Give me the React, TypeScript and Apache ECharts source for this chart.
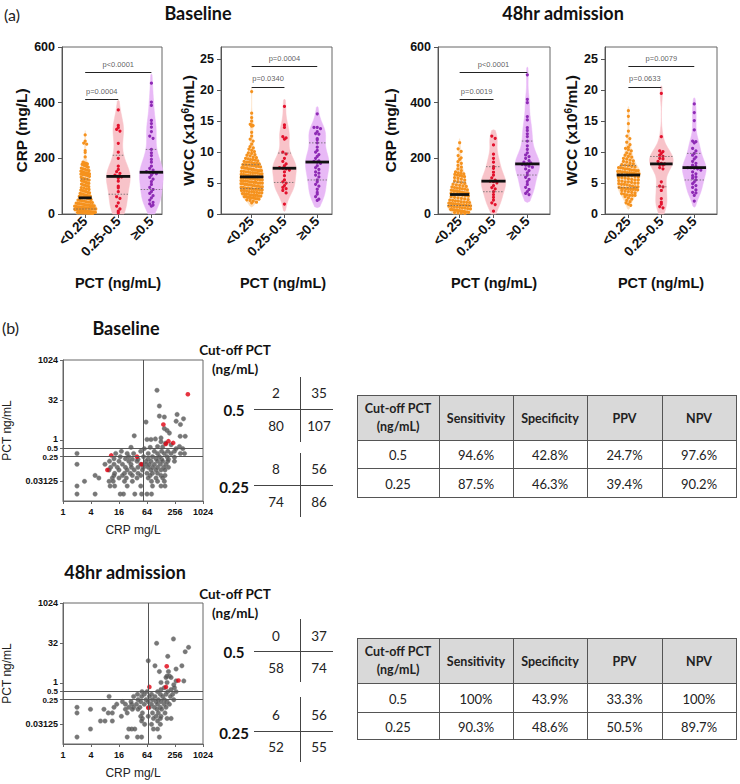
import React, { useEffect, useRef } from "react";
import * as echarts from "echarts";

// ---------------- DATA ----------------
const groupLabels = ["<0.25", "0.25-0.5", "≥0.5"];

// Baseline CRP (mg/L) by PCT group
const crpBaseLow = [284, 262, 255, 251, 228, 221, 205, 186, 184, 182, 180, 178, 176, 174, 171, 168, 165, 162, 160, 158, 156, 154, 152, 150, 149, 148, 147, 146, 145, 144, 143, 142, 141, 140, 138, 135, 132, 128, 126, 124, 122, 120, 118, 116, 114, 112, 110, 107, 105, 103, 101, 98, 95, 93, 90, 88, 86, 84, 82, 80, 78, 76, 74, 72, 71, 69, 68, 66, 65, 64, 63, 62, 61, 60, 59, 57, 56, 54, 52, 50, 49, 47, 46, 44, 43, 42, 41, 39, 38, 37, 36, 35, 34, 33, 32, 31, 30, 30, 29, 28, 27, 26, 26, 25, 24, 24, 23, 22, 22, 21, 21, 20, 19, 19, 18, 18, 17, 17, 16, 16, 15, 15, 14, 14, 13, 13, 12, 12, 11, 11, 10, 10, 9, 9, 9, 8, 8, 8, 7, 7, 7, 6, 6, 6, 5, 5, 5, 4, 4, 4, 3, 3, 2, 2];
const crpBaseMid = [374, 318, 310, 304, 298, 254, 222, 200, 172, 160, 152, 146, 140, 136, 133, 128, 118, 100, 94, 80, 62, 56, 40, 28, 18, 10, 4];
const crpBaseHigh = [470, 402, 390, 336, 325, 312, 296, 280, 272, 232, 220, 210, 196, 186, 172, 164, 158, 152, 150, 148, 145, 140, 132, 125, 116, 106, 96, 88, 80, 74, 66, 58, 50, 42, 36, 32, 28];

// Baseline WCC (x10^6/mL)
const wccBaseLow = [19.8, 16.3, 15.6, 15.0, 14.5, 14.4, 14.3, 14.2, 13.2, 12.6, 12.1, 11.8, 11.3, 10.9, 10.7, 10.5, 10.3, 10.1, 9.9, 9.8, 9.6, 9.5, 9.4, 9.2, 9.1, 9.0, 8.9, 8.8, 8.8, 8.7, 8.6, 8.5, 8.4, 8.4, 8.3, 8.2, 8.2, 8.1, 8.0, 8.0, 7.9, 7.9, 7.8, 7.8, 7.7, 7.7, 7.6, 7.5, 7.5, 7.4, 7.4, 7.3, 7.3, 7.2, 7.2, 7.1, 7.1, 7.0, 7.0, 7.0, 6.9, 6.9, 6.8, 6.8, 6.7, 6.7, 6.6, 6.6, 6.5, 6.5, 6.4, 6.4, 6.3, 6.3, 6.2, 6.2, 6.1, 6.1, 6.0, 6.0, 5.9, 5.9, 5.8, 5.8, 5.7, 5.7, 5.6, 5.6, 5.5, 5.5, 5.4, 5.4, 5.3, 5.3, 5.2, 5.2, 5.1, 5.1, 5.0, 5.0, 5.0, 4.9, 4.9, 4.8, 4.8, 4.7, 4.7, 4.6, 4.6, 4.5, 4.5, 4.4, 4.4, 4.3, 4.3, 4.2, 4.2, 4.1, 4.1, 4.0, 4.0, 4.0, 3.9, 3.9, 3.8, 3.8, 3.7, 3.6, 3.6, 3.5, 3.5, 3.4, 3.4, 3.3, 3.3, 3.2, 3.2, 3.1, 3.1, 3.0, 3.0, 3.0, 2.9, 2.9, 2.8, 2.8, 2.7, 2.7, 2.6, 2.6, 2.5, 2.5, 2.4, 2.3, 2.2, 2.1, 1.9, 1.8];
const wccBaseMid = [17.4, 14.4, 14.0, 12.5, 12.3, 12.1, 10.0, 9.7, 9.0, 8.5, 8.1, 7.8, 7.5, 7.4, 7.3, 7.1, 6.8, 6.2, 5.5, 5.2, 5.0, 4.6, 4.3, 4.1, 3.8, 3.4, 1.6];
const wccBaseHigh = [16.2, 14.0, 14.0, 13.8, 13.3, 13.0, 12.9, 12.2, 12.0, 11.5, 10.8, 10.3, 10.0, 9.6, 9.3, 9.0, 8.6, 8.5, 8.4, 8.2, 7.8, 7.5, 7.2, 6.8, 6.6, 6.3, 6.0, 5.5, 5.2, 4.8, 4.5, 4.0, 3.5, 3.2, 2.8, 2.4, 2.2];

// 48hr CRP (mg/L)
const crp48Low = [256, 234, 225, 210, 202, 196, 188, 182, 175, 168, 162, 156, 151, 148, 146, 144, 142, 140, 138, 136, 134, 131, 128, 125, 122, 119, 116, 113, 110, 107, 105, 103, 101, 99, 97, 95, 93, 92, 90, 89, 87, 86, 84, 83, 81, 80, 78, 77, 76, 75, 74, 73, 72, 70, 68, 66, 64, 62, 60, 58, 56, 54, 52, 50, 49, 47, 46, 44, 43, 42, 41, 39, 38, 37, 36, 35, 34, 33, 32, 31, 30, 29, 28, 27, 26, 25, 24, 22, 21, 19, 18, 17, 16, 15, 14, 13, 12, 11, 10, 9, 8, 7, 6, 5, 4, 3, 2];
const crp48Mid = [280, 272, 248, 215, 200, 186, 170, 164, 150, 140, 130, 122, 118, 116, 112, 102, 95, 90, 80, 70, 60, 50, 40, 34, 10];
const crp48High = [500, 412, 400, 350, 338, 310, 300, 288, 278, 262, 245, 232, 220, 212, 206, 200, 192, 186, 180, 178, 176, 172, 168, 162, 156, 148, 140, 132, 124, 116, 106, 96, 88, 80, 74, 70, 184];

// 48hr WCC (x10^6/mL)
const wcc48Low = [16.7, 15.8, 14.6, 13.4, 12.6, 12.2, 11.6, 11.2, 10.8, 10.6, 10.4, 10.2, 9.9, 9.7, 9.5, 9.3, 9.2, 9.0, 8.9, 8.7, 8.6, 8.5, 8.4, 8.2, 8.1, 8.0, 7.9, 7.8, 7.7, 7.6, 7.5, 7.5, 7.4, 7.3, 7.3, 7.2, 7.1, 7.1, 7.0, 7.0, 6.9, 6.9, 6.8, 6.8, 6.7, 6.7, 6.6, 6.6, 6.5, 6.5, 6.4, 6.4, 6.3, 6.2, 6.2, 6.1, 6.0, 5.9, 5.9, 5.8, 5.7, 5.6, 5.5, 5.5, 5.4, 5.3, 5.2, 5.2, 5.1, 5.0, 5.0, 4.9, 4.8, 4.8, 4.7, 4.6, 4.5, 4.4, 4.4, 4.3, 4.2, 4.2, 4.1, 4.1, 4.0, 4.0, 4.0, 3.9, 3.8, 3.7, 3.6, 3.5, 3.4, 3.3, 3.2, 3.1, 3.0, 3.0, 3.0, 2.8, 2.6, 2.4, 2.2, 2.0, 1.8, 1.6, 1.4];
const wcc48Mid = [19.5, 12.5, 10.2, 10.1, 9.8, 9.5, 9.3, 9.0, 8.9, 8.5, 8.2, 8.1, 8.0, 7.9, 7.5, 7.3, 5.2, 4.5, 4.4, 3.8, 2.5, 1.9, 1.6, 1.2, 1.0];
const wcc48High = [17.8, 16.4, 15.1, 13.6, 11.8, 11.7, 11.5, 10.6, 10.2, 9.8, 9.5, 9.2, 8.9, 8.5, 8.2, 7.9, 7.7, 7.5, 7.5, 7.4, 7.3, 7.1, 6.8, 6.5, 6.2, 6.0, 5.8, 5.5, 5.2, 4.9, 4.6, 4.3, 3.9, 3.5, 3.4, 3.0, 2.1];

// medians
const crpBaseMedians = [58, 135, 150];
const wccBaseMedians = [6.0, 7.4, 8.4];
const crp48Medians = [70, 118, 180];
const wcc48Medians = [6.3, 8.1, 7.5];

// p-value brackets [fromGroup, toGroup, height, label]
const crpBaseBrackets: [number, number, number, string][] = [[1, 3, 510, "p<0.0001"], [1, 2, 413, "p=0.0004"]];
const wccBaseBrackets: [number, number, number, string][] = [[1, 3, 23.9, "p=0.0004"], [1, 2, 20.6, "p=0.0340"]];
const crp48Brackets: [number, number, number, string][] = [[1, 3, 510, "p<0.0001"], [1, 2, 413, "p=0.0019"]];
const wcc48Brackets: [number, number, number, string][] = [[1, 3, 23.9, "p=0.0079"], [1, 2, 20.6, "p=0.0633"]];

// Scatter: [CRP mg/L, PCT ng/mL]
const baseGray: [number, number][] = [
  [105, 76], [118, 19.6], [118, 8.2], [151, 7.6], [284, 9.5], [390, 6.5], [271, 5.3], [61, 4.9], [335, 4.0], [151, 2.8], [173, 2.4], [194, 1.9], [34, 1.5], [331, 1.45], [424, 1.45], [128, 1.26], [97, 1.15], [64, 1.1], [78, 1.1], [128, 0.9], [160, 0.8], [211, 0.7], [108, 0.6], [139, 0.58], [320, 0.6], [29, 0.56], [75, 0.56], [56, 0.5], [270, 0.5], [377, 0.5],
  [18, 0.4], [47, 0.4], [92, 0.4], [132, 0.4], [179, 0.4], [249, 0.4],
  [2, 0.33], [13.6, 0.33], [24, 0.33], [33, 0.33], [68, 0.33], [108, 0.33], [151, 0.33], [211, 0.33], [335, 0.33], [410, 0.33],
  [17, 0.25], [26, 0.25], [54, 0.25], [84, 0.25], [118, 0.25], [173, 0.25], [249, 0.24],
  [12.5, 0.21], [22, 0.21], [31, 0.2], [41, 0.2], [68, 0.21], [100, 0.21], [132, 0.2], [185, 0.2],
  [10, 0.17], [16, 0.17], [26, 0.17], [39, 0.17], [61, 0.17], [78, 0.17], [108, 0.17], [139, 0.17], [179, 0.17], [249, 0.17],
  [2, 0.13], [8, 0.13], [12.5, 0.13], [19, 0.13], [29, 0.13], [47, 0.13], [61, 0.13], [72, 0.13], [92, 0.13], [124, 0.13], [164, 0.13],
  [10.6, 0.1], [14.7, 0.1], [22, 0.1], [29.6, 0.1], [41, 0.1], [54, 0.1], [68, 0.1], [85, 0.1], [108, 0.1], [147, 0.1], [185, 0.1],
  [9.8, 0.08], [16, 0.08], [24, 0.08], [34, 0.08], [51, 0.08], [78, 0.08], [100, 0.08], [128, 0.08], [156, 0.08],
  [12.9, 0.06], [21, 0.06], [28, 0.06], [41, 0.06], [64, 0.06], [84, 0.06], [108, 0.06],
  [4.9, 0.05], [12.5, 0.05], [19, 0.05], [31, 0.05], [47, 0.05], [75, 0.05], [128, 0.05], [156, 0.05],
  [5.9, 0.04], [11.5, 0.04], [16, 0.04], [23, 0.04], [39, 0.04], [68, 0.04], [100, 0.04], [139, 0.04],
  [2.9, 0.03], [9.8, 0.03], [12, 0.03], [21, 0.03], [31, 0.03], [80, 0.03], [108, 0.03], [151, 0.03],
  [2, 0.02], [10.3, 0.02], [12.9, 0.02], [24, 0.02], [47, 0.02], [84, 0.02], [128, 0.02], [156, 0.02],
  [2, 0.01], [4.9, 0.01], [17, 0.01], [20, 0.01], [35, 0.01], [49, 0.01], [64, 0.01], [80, 0.01],
];
const baseRed: [number, number][] = [[484, 54], [144, 4], [185, 0.95], [162, 0.75], [234, 0.82], [10.9, 0.28], [39, 0.25], [49, 0.13], [9, 0.08]];

const h48Gray: [number, number][] = [
  [237, 46.6], [103, 32], [501, 22.6], [424, 15.5], [179, 10.4], [68, 7.1], [95, 4.6], [360, 4.6], [270, 3.5], [118, 2.8], [185, 2.8], [194, 1.9], [173, 1.9], [164, 1.7], [211, 1.7], [270, 1.26], [396, 1.26], [128, 1.1], [173, 1.1], [241, 0.9], [151, 0.7], [249, 0.7], [128, 0.6], [211, 0.6],
  [50, 0.5], [64, 0.5], [108, 0.5], [179, 0.5], [270, 0.5],
  [40, 0.4], [56, 0.4], [80, 0.4], [124, 0.4], [164, 0.4], [228, 0.4],
  [9.8, 0.33], [33, 0.33], [49, 0.33], [72, 0.33], [95, 0.33], [139, 0.33], [204, 0.33],
  [41, 0.25], [61, 0.25], [84, 0.25], [112, 0.25], [151, 0.25], [241, 0.25],
  [19, 0.21], [29, 0.21], [47, 0.21], [68, 0.21], [100, 0.21], [128, 0.21], [173, 0.21],
  [14.3, 0.17], [22, 0.17], [30, 0.17], [38, 0.17], [56, 0.17], [80, 0.17], [108, 0.17], [151, 0.17], [194, 0.17],
  [2, 0.13], [12.5, 0.13], [26, 0.13], [33, 0.13], [45, 0.13], [72, 0.13], [92, 0.13], [124, 0.13], [164, 0.13],
  [3.9, 0.11], [7.6, 0.11], [22, 0.11], [31, 0.11], [41, 0.11], [105, 0.11], [132, 0.11],
  [2, 0.08], [9.4, 0.08], [11.5, 0.08], [24, 0.08], [51, 0.08], [84, 0.08], [112, 0.08], [156, 0.08],
  [18, 0.06], [47, 0.06], [68, 0.06], [100, 0.06], [128, 0.06],
  [51, 0.05], [88, 0.05], [124, 0.05], [173, 0.05], [211, 0.05],
  [6.4, 0.04], [8, 0.04], [11.5, 0.04], [49, 0.04], [108, 0.04],
  [57, 0.03], [80, 0.03], [124, 0.03],
  [3.9, 0.02], [26, 0.02], [30, 0.02], [35, 0.02], [88, 0.02], [108, 0.02],
  [2, 0.01], [24, 0.01], [40, 0.01], [49, 0.01], [118, 0.01],
];
const h48Red: [number, number][] = [[170, 4.4], [72, 0.75], [164, 0.75], [304, 1.3], [68, 0.125]];

const crpCutoffs = [54, 68]; // vertical reference line (baseline, 48hr)
const pctCutoffs = [0.5, 0.25];
const scatterXTicks = [1, 4, 16, 64, 256, 1024];
const scatterYTicks = [1024, 32, 1, 0.5, 0.25, 0.03125];

// 2x2 tables: [PCT>=cut & CRP low, PCT>=cut & CRP high, PCT<cut & CRP low, PCT<cut & CRP high]
const contBase = [[2, 35, 80, 107], [8, 56, 74, 86]];
const cont48 = [[0, 37, 58, 74], [6, 56, 52, 55]];

const tableHeaders = ["Cut-off PCT\n(ng/mL)", "Sensitivity", "Specificity", "PPV", "NPV"];
const tableBase = [["0.5", "94.6%", "42.8%", "24.7%", "97.6%"], ["0.25", "87.5%", "46.3%", "39.4%", "90.2%"]];
const table48 = [["0.5", "100%", "43.9%", "33.3%", "100%"], ["0.25", "90.3%", "48.6%", "50.5%", "89.7%"]];

// ---------------- HELPERS ----------------
const AX = "'Liberation Sans', Arial, sans-serif";
const CAL = "Lato, 'Open Sans', sans-serif";
const violinFills = ["#fde1c2", "#f8c3c9", "#e8b9f6"];
const dotColors = ["#f5921e", "#e3122d", "#8e2bb5"];

function quantile(s: number[], p: number) {
  const idx = (s.length - 1) * p;
  const lo = Math.floor(idx), hi = Math.ceil(idx);
  return s[lo] + (s[hi] - s[lo]) * (idx - lo);
}

function kdeProfile(values: number[], lo: number, hi: number, bwFactor: number, maxHalf: number) {
  const s = [...values].sort((a, b) => a - b);
  const n = s.length;
  const mean = s.reduce((a, b) => a + b, 0) / n;
  const sd = Math.sqrt(s.reduce((a, b) => a + (b - mean) * (b - mean), 0) / (n - 1));
  const iqr = quantile(s, 0.75) - quantile(s, 0.25);
  const spread = Math.min(sd, iqr / 1.34 || sd);
  const h = bwFactor * 0.9 * spread * Math.pow(n, -0.2);
  const a = Math.max(lo, s[0] - 0.9 * h);
  const b = Math.min(hi, s[n - 1] + 0.9 * h);
  const steps = 100;
  const pts: number[][] = [];
  for (let i = 0; i <= steps; i++) {
    const v = a + ((b - a) * i) / steps;
    let d = 0;
    for (const x of s) {
      const z = (v - x) / h;
      d += Math.exp(-0.5 * z * z);
    }
    pts.push([v, d]);
  }
  const maxD = Math.max(...pts.map((p) => p[1]));
  const prof = pts.map(([v, d]) => [v, (d / maxD) * maxHalf]);
  if (a > lo) prof[0][1] = 0;
  prof[prof.length - 1][1] = 0;
  return prof;
}

function widthAt(prof: number[][], v: number) {
  if (v <= prof[0][0]) return prof[0][1];
  for (let i = 1; i < prof.length; i++) {
    if (v <= prof[i][0]) {
      const [v0, w0] = prof[i - 1];
      const [v1, w1] = prof[i];
      return w0 + ((w1 - w0) * (v - v0)) / (v1 - v0);
    }
  }
  return prof[prof.length - 1][1];
}

function swarm(values: number[], center: number, binSize: number, prof: number[][], step: number) {
  const bins = new Map<number, number[]>();
  values.forEach((v) => {
    const k = Math.round(v / binSize);
    if (!bins.has(k)) bins.set(k, []);
    bins.get(k)!.push(v);
  });
  const out: number[][] = [];
  bins.forEach((vs, k) => {
    const n = vs.length;
    const hw = Math.max(widthAt(prof, k * binSize), 0.05);
    const s = n > 1 ? Math.min(step, (2 * hw * 0.9) / (n - 1)) : step;
    vs.forEach((v, i) => out.push([center + (i - (n - 1) / 2) * s, v]));
  });
  return out;
}

function violinSeries(panel: number, groups: number[][], medians: number[], yMax: number, brackets: [number, number, number, string][]) {
  const profiles = groups.map((g) => kdeProfile(g, 0, yMax, 0.8, 0.36));
  const binSize = (yMax * 3.2) / 167;
  const series: any[] = [];
  series.push({
    type: "custom",
    xAxisIndex: panel,
    yAxisIndex: panel,
    z: 1,
    silent: true,
    data: [[1, 0, 0], [2, 0, 1], [3, 0, 2]],
    encode: { x: 0, y: 1 },
    renderItem: (_p: any, api: any) => {
      const gi = api.value(2);
      const c = gi + 1;
      const prof = profiles[gi];
      const left = prof.map(([v, w]) => api.coord([c - w, v]));
      const right = prof.map(([v, w]) => api.coord([c + w, v])).reverse();
      return { type: "polygon", shape: { points: left.concat(right) }, style: { fill: violinFills[gi], stroke: violinFills[gi], lineWidth: 0.5 } };
    },
  });
  groups.forEach((g, gi) => {
    series.push({
      type: "scatter",
      xAxisIndex: panel,
      yAxisIndex: panel,
      z: 2,
      silent: true,
      symbol: "circle",
      symbolSize: 3.2,
      itemStyle: { color: dotColors[gi], opacity: 1 },
      data: swarm(g, gi + 1, binSize, profiles[gi], 0.1),
    });
  });
  series.push({
    type: "custom",
    xAxisIndex: panel,
    yAxisIndex: panel,
    z: 3,
    silent: true,
    itemStyle: { color: "#111" },
    data: medians.map((m, gi) => [gi + 1, m, gi]),
    encode: { x: 0, y: 1 },
    renderItem: (_p: any, api: any) => {
      const gi = api.value(2);
      const c = gi + 1;
      const med = api.value(1);
      const s = [...groups[gi]].sort((a, b) => a - b);
      const q1 = quantile(s, 0.25), q3 = quantile(s, 0.75);
      const prof = profiles[gi];
      const wm = Math.max(widthAt(prof, med), 0.18);
      const children: any[] = [];
      [q1, q3].forEach((q) => {
        const w = Math.max(widthAt(prof, q), 0.1);
        const p1 = api.coord([c - w, q]);
        const p2 = api.coord([c + w, q]);
        children.push({ type: "line", shape: { x1: p1[0], y1: p1[1], x2: p2[0], y2: p2[1] }, style: { stroke: "#666", lineWidth: 0.8, lineDash: [1.5, 1.5] } });
      });
      const m1 = api.coord([c - wm, med]);
      const m2 = api.coord([c + wm, med]);
      children.push({ type: "line", shape: { x1: m1[0], y1: m1[1], x2: m2[0], y2: m2[1] }, style: { stroke: "#111", lineWidth: 2.8 } });
      return { type: "group", children };
    },
  });
  // bracket lines
  series.push({
    type: "custom",
    xAxisIndex: panel,
    yAxisIndex: panel,
    z: 4,
    silent: true,
    itemStyle: { color: "#222" },
    data: brackets.map((b) => [b[0], b[2], b[1]]),
    encode: { x: 0, y: 1 },
    renderItem: (_p: any, api: any) => {
      const p1 = api.coord([api.value(0), api.value(1)]);
      const p2 = api.coord([api.value(2), api.value(1)]);
      const yy = Math.round(p1[1]) + 0.5;
      return { type: "line", shape: { x1: p1[0], y1: yy, x2: p2[0], y2: yy }, style: { stroke: "#222", lineWidth: 1 } };
    },
  });
  // bracket labels
  series.push({
    type: "scatter",
    xAxisIndex: panel,
    yAxisIndex: panel,
    z: 4,
    silent: true,
    symbolSize: 0,
    itemStyle: { color: "transparent" },
    data: brackets.map((b) => [(b[0] + b[1]) / 2, b[2], b[3]]),
    label: {
      show: true,
      position: "top",
      distance: 4,
      formatter: (p: any) => p.data[2],
      fontSize: 7.5,
      fontFamily: AX,
      color: "#333",
    },
  });
  return series;
}

function violinXAxis(i: number, min: number, max: number, namePad: number) {
  return {
    type: "value",
    gridIndex: i,
    min,
    max,
    axisLine: { show: true, onZero: false, lineStyle: { color: "#555", width: 1 } },
    axisTick: { show: true, customValues: [1, 2, 3], length: 4, lineStyle: { color: "#555" } },
    axisLabel: {
      customValues: [1, 2, 3],
      formatter: (v: number) => groupLabels[Math.round(v) - 1] ?? "",
      rotate: 45,
      fontSize: 13.5,
      fontWeight: "bold",
      color: "#111",
      fontFamily: AX,
      margin: 5,
      hideOverlap: false,
    },
    splitLine: { show: false },
    name: "PCT (ng/mL)",
    nameLocation: "middle",
    nameGap: 61,
    nameTextStyle: { fontSize: 14.5, fontWeight: "bold", color: "#111", fontFamily: AX, padding: [0, 0, 0, namePad] },
  };
}

function violinYAxis(i: number, max: number, ticks: number[], name: string, nameGap: number) {
  return {
    type: "value",
    gridIndex: i,
    min: 0,
    max,
    axisLine: { show: true, onZero: false, lineStyle: { color: "#555", width: 1 } },
    axisTick: { show: true, customValues: ticks, length: 4, lineStyle: { color: "#555" } },
    axisLabel: { customValues: ticks, fontSize: 12.5, fontWeight: "bold", color: "#111", fontFamily: AX, margin: 7 },
    splitLine: { show: false },
    name,
    nameLocation: "middle",
    nameGap,
    nameTextStyle: {
      fontSize: 15.5,
      fontWeight: "bold",
      color: "#111",
      fontFamily: AX,
      rich: { sup: { fontSize: 10, fontWeight: "bold", fontFamily: AX, color: "#111", verticalAlign: "top", lineHeight: 15 } },
    },
  };
}

// label positions on the log2 PCT axis: the three crowded labels are nudged apart slightly
const yTickExps = scatterYTicks.map((t) => Math.log2(t));
const yLabelExps = yTickExps.map((e) => (e === 0 ? 0.15 : e === -2 ? -2.15 : e));
const fmtX = (v: number) => String(Math.round(Math.pow(2, v)));
const fmtY = (v: number) => {
  let best = yTickExps[0];
  yLabelExps.forEach((e, k) => {
    if (Math.abs(e - v) < 1e-6) best = yTickExps[k];
  });
  const p = Math.round(Math.pow(2, best) * 1e6) / 1e6;
  if (p === 0.5 || p === 0.25) return `{s|${p}}`;
  return String(p);
};

function scatterAxes(i: number) {
  const xVals = scatterXTicks.map((t) => Math.log2(t));
  const lab = { fontSize: 9, fontWeight: "bold", color: "#111", fontFamily: AX };
  const x = {
    type: "value",
    gridIndex: i,
    min: 0,
    max: 10,
    axisLine: { show: true, onZero: false, lineStyle: { color: "#666" } },
    axisTick: { show: true, customValues: xVals, length: 3, lineStyle: { color: "#666" } },
    axisLabel: { customValues: xVals, formatter: fmtX, ...lab, margin: 6 },
    splitLine: { show: false },
    name: "CRP mg/L",
    nameLocation: "middle",
    nameGap: 23,
    nameTextStyle: { fontSize: 12, color: "#222", fontFamily: AX },
  };
  const y = {
    type: "value",
    gridIndex: i,
    min: -7.5,
    max: 10,
    axisLine: { show: true, onZero: false, lineStyle: { color: "#666" } },
    axisTick: { show: true, customValues: yTickExps, length: 3, lineStyle: { color: "#666" } },
    axisLabel: {
      customValues: yLabelExps,
      formatter: fmtY,
      ...lab,
      margin: 5,
      rich: { s: { ...lab, fontSize: 8 } },
    },
    splitLine: { show: false },
    name: "PCT ng/mL",
    nameLocation: "middle",
    nameGap: 50,
    nameTextStyle: { fontSize: 12, color: "#222", fontFamily: AX },
  };
  return { x, y };
}

function scatterSeries(i: number, gray: [number, number][], red: [number, number][], crpCut: number) {
  return [
    {
      type: "scatter",
      xAxisIndex: i,
      yAxisIndex: i,
      silent: true,
      symbolSize: 4.6,
      itemStyle: { color: "#555", borderColor: "#888", borderWidth: 0.4 },
      data: gray.map(([c, p]) => [Math.log2(c), Math.log2(p)]),
      markLine: {
        silent: true,
        symbol: ["none", "none"],
        label: { show: false },
        lineStyle: { color: "#555", width: 1, type: "solid" },
        data: [{ yAxis: Math.log2(pctCutoffs[0]) }, { yAxis: Math.log2(pctCutoffs[1]) }, { xAxis: Math.log2(crpCut) }],
      },
    },
    {
      type: "scatter",
      xAxisIndex: i,
      yAxisIndex: i,
      silent: true,
      symbolSize: 4.6,
      itemStyle: { color: "#e00010" },
      data: red.map(([c, p]) => [Math.log2(c), Math.log2(p)]),
      z: 3,
    },
  ];
}

function buildGraphics() {
  const g: any[] = [];
  const txt = (x: number, y: number, text: string, size: number, weight = "normal", family = CAL, align = "center", color = "#111") =>
    g.push({ type: "text", x, y, silent: true, style: { text, align, verticalAlign: "middle", fontSize: size, fontWeight: weight, fontFamily: family, fill: color } });
  const ln = (x1: number, y1: number, x2: number, y2: number, color = "#444", w = 1) =>
    g.push({ type: "line", silent: true, shape: { x1, y1, x2, y2 }, style: { stroke: color, lineWidth: w } });

  txt(4, 14, "(a)", 16, "normal", CAL, "left", "#222");
  txt(198, 13, "Baseline", 18, "bold");
  txt(563, 13, "48hr admission", 18, "bold");
  txt(2, 327, "(b)", 16, "normal", CAL, "left", "#222");
  txt(126, 328, "Baseline", 18, "bold");
  txt(125, 572, "48hr admission", 18, "bold");

  const contBlock = (hy1: number, blocks: { top: number; bot: number; hy: number; ny1: number; ny2: number; ly: number }[], vals: number[][]) => {
    txt(235, hy1, "Cut-off PCT", 13.5, "bold");
    txt(235, hy1 + 19, "(ng/mL)", 13.5, "bold");
    blocks.forEach((b, i) => {
      ln(300.5, b.top, 300.5, b.bot);
      ln(254, b.hy + 0.5, 333, b.hy + 0.5);
      txt(234, b.ly, pctCutoffs[i] === 0.5 ? "0.5" : "0.25", 15, "bold");
      txt(276, b.ny1, String(vals[i][0]), 13.5, "normal", CAL, "center", "#222");
      txt(319, b.ny1, String(vals[i][1]), 13.5, "normal", CAL, "center", "#222");
      txt(276, b.ny2, String(vals[i][2]), 13.5, "normal", CAL, "center", "#222");
      txt(319, b.ny2, String(vals[i][3]), 13.5, "normal", CAL, "center", "#222");
    });
  };
  contBlock(350, [
    { top: 377, bot: 442, hy: 409, ny1: 393, ny2: 426, ly: 410 },
    { top: 453, bot: 517, hy: 485, ny1: 469, ny2: 502, ly: 487 },
  ], contBase);
  contBlock(594, [
    { top: 619, bot: 682, hy: 651, ny1: 636, ny2: 668, ly: 652 },
    { top: 697, bot: 762, hy: 731, ny1: 715, ny2: 747, ly: 733 },
  ], cont48);

  const colX = [357, 439, 513, 587, 662, 736];
  const table = (ys: number[], rows: string[][]) => {
    g.push({ type: "rect", silent: true, shape: { x: colX[0] + 0.5, y: ys[0] + 0.5, width: colX[5] - colX[0], height: ys[1] - ys[0] }, style: { fill: "#d9d9d9", stroke: "none" } });
    for (let r = 0; r < ys.length; r++) ln(colX[0], ys[r] + 0.5, colX[5] + 1, ys[r] + 0.5, "#555");
    for (let c = 0; c < colX.length; c++) ln(colX[c] + 0.5, ys[0], colX[c] + 0.5, ys[3] + 1, "#555");
    tableHeaders.forEach((h, c) => {
      const cx = (colX[c] + colX[c + 1]) / 2;
      const cy = (ys[0] + ys[1]) / 2;
      const lines = h.split("\n");
      if (lines.length === 2) {
        txt(cx, cy - 9, lines[0], 12.5, "bold", CAL, "center", "#222");
        txt(cx, cy + 9, lines[1], 12.5, "bold", CAL, "center", "#222");
      } else txt(cx, cy + 1, h, 12.5, "bold", CAL, "center", "#222");
    });
    rows.forEach((row, r) => {
      const cy = (ys[r + 1] + ys[r + 2]) / 2 + 1;
      row.forEach((v, c) => txt((colX[c] + colX[c + 1]) / 2, cy, v, 13, "normal", CAL, "center", "#222"));
    });
  };
  table([395, 440, 468, 497], tableBase);
  table([638, 683, 712, 739], table48);
  return g;
}

function buildOption() {
  const grids = [
    { left: 62, top: 47, width: 100, height: 167 },
    { left: 221, top: 47, width: 111, height: 167 },
    { left: 438, top: 47, width: 112, height: 167 },
    { left: 605, top: 47, width: 112, height: 167 },
    { left: 63, top: 360, width: 140, height: 141 },
    { left: 63, top: 603, width: 140, height: 141 },
  ].map((g) => ({ ...g, show: true, borderColor: "#666", borderWidth: 1, backgroundColor: "transparent", containLabel: false, outerBoundsMode: "none" }));

  const sA = scatterAxes(4);
  const sB = scatterAxes(5);
  const xAxis = [
    violinXAxis(0, 0.3, 3.32, 12),
    violinXAxis(1, 0.065, 3.45, 13),
    violinXAxis(2, 0.36, 3.67, 0),
    violinXAxis(3, 0.29, 3.69, 0),
    sA.x,
    sB.x,
  ];
  const yAxis = [
    violinYAxis(0, 600, [0, 200, 400, 600], "CRP (mg/L)", 33),
    violinYAxis(1, 27, [0, 5, 10, 15, 20, 25], "WCC (x10{sup|6}/mL)", 19),
    violinYAxis(2, 600, [0, 200, 400, 600], "CRP (mg/L)", 40),
    violinYAxis(3, 27, [0, 5, 10, 15, 20, 25], "WCC (x10{sup|6}/mL)", 26),
    sA.y,
    sB.y,
  ];
  const series = [
    ...violinSeries(0, [crpBaseLow, crpBaseMid, crpBaseHigh], crpBaseMedians, 600, crpBaseBrackets),
    ...violinSeries(1, [wccBaseLow, wccBaseMid, wccBaseHigh], wccBaseMedians, 27, wccBaseBrackets),
    ...violinSeries(2, [crp48Low, crp48Mid, crp48High], crp48Medians, 600, crp48Brackets),
    ...violinSeries(3, [wcc48Low, wcc48Mid, wcc48High], wcc48Medians, 27, wcc48Brackets),
    ...scatterSeries(4, baseGray, baseRed, crpCutoffs[0]),
    ...scatterSeries(5, h48Gray, h48Red, crpCutoffs[1]),
  ];
  return {
    animation: false,
    backgroundColor: "#ffffff",
    grid: grids,
    xAxis,
    yAxis,
    series,
    graphic: { elements: buildGraphics() },
  };
}

export default function App() {
  const ref = useRef<HTMLDivElement>(null);
  useEffect(() => {
    document.body.style.margin = "0";
    const chart = echarts.init(ref.current!, null, { renderer: "svg" });
    chart.setOption(buildOption() as any);
    return () => chart.dispose();
  }, []);
  return <div ref={ref} style={{ width: 740, height: 784 }} />;
}
